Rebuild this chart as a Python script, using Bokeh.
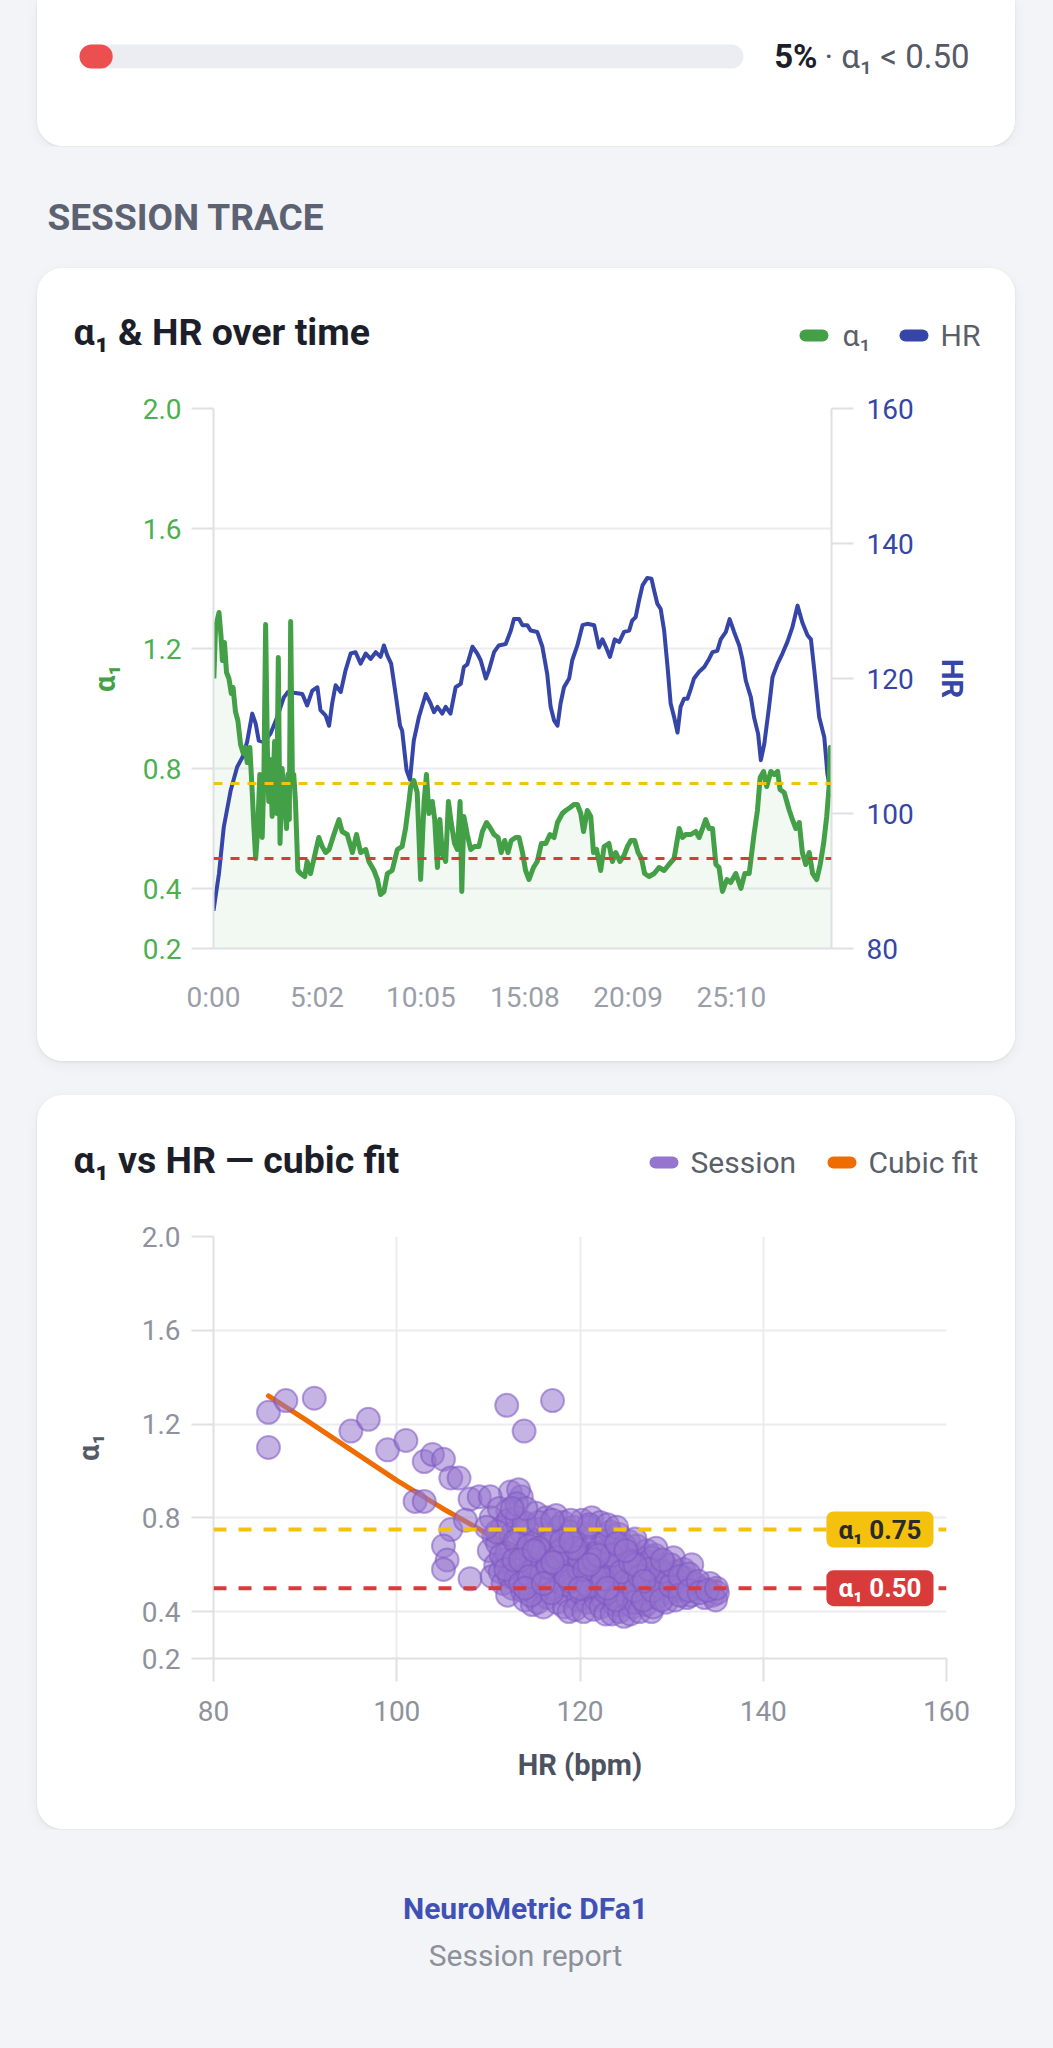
from bokeh.plotting import figure
from bokeh.models import (Range1d, LinearAxis, FixedTicker, PrintfTickFormatter, Span, Label,
                          ColumnDataSource, GlobalInlineStyleSheet)
from bokeh.layouts import column
from bokeh.embed import file_html
from bokeh.resources import INLINE

# ---------------- data ----------------
pct_below_low = 5                # % of session with a1 < 0.50
low_threshold = 0.50
aerobic_threshold = 0.75

time_tick_labels = ["0:00", "5:02", "10:05", "15:08", "20:09", "25:10"]

a1_time = [1, 6, 16, 22, 26, 32, 38, 45, 52, 57, 64, 71, 79, 87, 93, 98, 106, 113, 118, 123,
           129, 135, 142, 147, 152, 157, 161, 166, 171, 178, 184, 189, 194, 200, 207, 213, 217,
           221, 225, 230, 234, 239, 246, 254, 266, 273, 283, 293, 307, 317, 327, 337, 351, 366,
           375, 390, 405, 417, 429, 444, 453, 468, 478, 487, 497, 507, 521, 536, 550, 560, 570,
           575, 584, 594, 604, 614, 621, 628, 638, 645, 653, 660, 667, 677, 685, 693, 703, 711,
           719, 724, 730, 740, 750, 761, 774, 784, 796, 808, 818, 830, 839, 849, 859, 868, 881,
           891, 901, 910, 920, 933, 944, 956, 969, 981, 993, 1003, 1017, 1027, 1040, 1051, 1061,
           1071, 1079, 1090, 1100, 1108, 1117, 1129, 1139, 1153, 1163, 1173, 1185, 1197, 1207,
           1217, 1228, 1238, 1248, 1257, 1270, 1285, 1299, 1314, 1328, 1343, 1358, 1367, 1377,
           1392, 1406, 1416, 1426, 1435, 1445, 1455, 1465, 1474, 1484, 1497, 1508, 1523, 1538,
           1549, 1562, 1576, 1586, 1594, 1604, 1613, 1625, 1635, 1645, 1652, 1664, 1679, 1688,
           1698, 1708, 1717, 1727, 1737, 1747, 1759, 1769, 1779, 1788, 1795, 1798, 1802]
a1_vals = [1.10, 1.27, 1.32, 1.24, 1.16, 1.22, 1.12, 1.10, 1.05, 1.07, 0.99, 0.96, 0.88, 0.85, 0.87,
           0.82, 0.87, 0.72, 0.60, 0.50, 0.60, 0.78, 0.57, 0.78, 1.28, 0.87, 0.69, 0.83, 0.64, 0.89,
           0.65, 1.17, 0.55, 0.80, 0.69, 0.60, 0.78, 0.63, 1.29, 0.77, 0.78, 0.69, 0.46, 0.45, 0.44,
           0.49, 0.45, 0.50, 0.57, 0.54, 0.52, 0.53, 0.58, 0.63, 0.59, 0.58, 0.52, 0.58, 0.52, 0.53,
           0.49, 0.46, 0.43, 0.38, 0.39, 0.45, 0.46, 0.53, 0.54, 0.60, 0.69,
           0.74, 0.76, 0.72, 0.43, 0.69, 0.78, 0.65, 0.69, 0.63, 0.47, 0.63, 0.52, 0.49, 0.69, 0.62,
           0.55, 0.53, 0.69, 0.39, 0.64, 0.58, 0.53, 0.54, 0.54, 0.59, 0.62, 0.60, 0.58, 0.57, 0.52,
           0.56, 0.52, 0.56, 0.57, 0.57, 0.52, 0.46, 0.43, 0.47, 0.49, 0.55, 0.55, 0.58, 0.57, 0.62,
           0.65, 0.66, 0.67, 0.68, 0.68, 0.65, 0.59, 0.66, 0.64, 0.52, 0.53, 0.46, 0.54, 0.55, 0.49,
           0.52, 0.49, 0.51, 0.54, 0.56, 0.56, 0.52, 0.50, 0.45, 0.44, 0.45, 0.47, 0.46, 0.48, 0.50,
           0.60, 0.57, 0.58, 0.58, 0.59, 0.57, 0.60, 0.63, 0.60, 0.60, 0.48, 0.47, 0.39, 0.43, 0.42,
           0.45, 0.40, 0.45, 0.45, 0.58, 0.66, 0.77, 0.79, 0.74, 0.79, 0.78, 0.79, 0.73, 0.72, 0.66,
           0.63, 0.60, 0.62, 0.52, 0.48, 0.52, 0.45, 0.43, 0.48, 0.55, 0.64, 0.74, 0.87, 0.87]

hr_time = [0, 16, 30, 50, 69, 84, 98, 113, 123, 132, 147, 166, 186, 205, 217, 244, 259, 273, 288,
           303, 312, 327, 337, 346, 356, 371, 385, 400, 414, 429, 444, 458, 473, 487, 497, 507,
           518, 531, 544, 550, 563, 573, 584, 599, 619, 633, 643, 653, 667, 677, 691, 706, 721,
           730, 740, 755, 769, 779, 794, 803, 818, 832, 852, 867, 876, 891, 901, 915, 925, 944,
           959, 973, 983, 993, 1003, 1012, 1022, 1037, 1046, 1061, 1076, 1090, 1110, 1124, 1134,
           1144, 1156, 1170, 1183, 1197, 1212, 1221, 1231, 1241, 1251, 1265, 1277, 1285, 1294,
           1304, 1314, 1324, 1333, 1343, 1353, 1362, 1372, 1382, 1392, 1401, 1416, 1431, 1445,
           1455, 1469, 1479, 1494, 1505, 1518, 1533, 1542, 1552, 1567, 1576, 1588, 1596, 1606,
           1620, 1630, 1645, 1659, 1674, 1688, 1703, 1717, 1732, 1742, 1752, 1766, 1781, 1790, 1802]
hr_vals = [85.6, 91.1, 98.0, 103.4, 106.9, 108.3, 110.6, 114.8, 113.3, 110.8, 110.6, 111.8, 114.3,
           117.2, 118.0, 117.8, 117.7, 116.0, 118.2, 118.7, 115.3, 114.5, 113.0, 116.3, 119.0,
           118.0, 121.2, 123.7, 123.9, 122.2, 123.7, 122.9, 123.9, 123.2, 124.9, 123.4, 122.2,
           117.7, 113.0, 112.3, 106.4, 105.0, 110.8, 114.3, 117.7, 116.3, 115.0, 115.8, 114.8,
           115.8, 114.8, 118.7, 119.2, 121.7, 122.1, 124.7, 123.7, 122.7, 120.0, 121.2, 123.9,
           124.9, 125.1, 127.1, 128.8, 128.8, 127.9, 127.9, 127.1, 126.9, 124.7, 120.7, 115.8,
           113.8, 113.0, 116.3, 118.7, 120.0, 122.7, 124.9, 127.9, 128.1, 127.9, 124.6, 125.8,
           124.7, 123.2, 125.8, 125.4, 126.9, 127.1, 128.6, 129.1, 131.6, 133.8, 134.9, 134.8,
           133.0, 131.1, 130.3, 127.1, 121.7, 116.3, 114.3, 112.0, 115.8, 117.0, 117.0, 118.5,
           120.0, 121.0, 121.7, 122.9, 123.9, 124.1, 125.8, 126.9, 128.8, 126.9, 124.9, 122.9,
           119.7, 117.2, 114.3, 111.8, 107.9, 110.3, 115.8, 120.2, 122.2, 123.7, 125.5, 127.6,
           130.8, 128.3, 126.4, 125.8, 121.2, 114.3, 111.3, 105.9, 102.5]

a1_ticks = [0.2, 0.4, 0.8, 1.2, 1.6, 2.0]
hr_axis_ticks = [80, 100, 120, 140, 160]

scatter_hr = [86.0, 86.0, 87.9, 91.0, 95.0, 96.9, 99.0, 101.0, 102.0, 103.0, 103.0, 103.9, 105.1,
              105.9, 106.8, 108.0, 109.0, 112.0, 117.0, 113.9, 105.9, 105.1, 105.5, 105.1, 108.0,
              112.4, 113.6, 112.1, 110.2, 107.5,
              110.3, 110.6, 110.1, 110.8, 110.4,
              111.2, 111.5, 111.0, 111.7, 111.3, 111.6,
              112.2, 112.5, 112.0, 112.7, 112.3, 112.6, 112.1,
              113.3, 113.1, 113.6, 113.2, 113.8, 113.4, 113.0, 113.7,
              114.2, 114.6, 114.1, 114.7, 114.3, 114.5, 114.0, 114.8,
              115.2, 115.5, 115.1, 115.7, 115.3, 115.6, 115.0, 115.4,
              116.3, 116.6, 116.1, 116.8, 116.4, 116.2, 116.7, 116.5, 116.0,
              117.4, 117.7, 117.2, 117.6, 117.1, 117.8, 117.3, 117.5,
              118.2, 118.6, 118.1, 118.7, 118.4, 118.0, 118.5, 118.3, 118.8,
              119.3, 119.6, 119.1, 119.7, 119.4, 119.2, 119.8, 119.5,
              120.2, 120.5, 120.0, 120.7, 120.3, 120.6, 120.1, 120.8, 120.4,
              121.3, 121.6, 121.1, 121.7, 121.4, 121.2, 121.8, 121.5,
              122.2, 122.6, 122.1, 122.7, 122.4, 122.0, 122.5, 122.3, 122.8,
              123.3, 123.6, 123.1, 123.7, 123.4, 123.2, 123.8, 123.5,
              124.2, 124.6, 124.1, 124.7, 124.4, 124.0, 124.5, 124.3, 124.8,
              125.3, 125.6, 125.1, 125.7, 125.4, 125.2, 125.8, 125.5,
              126.2, 126.6, 126.1, 126.7, 126.4, 126.0, 126.5,
              127.3, 127.6, 127.1, 127.7, 127.4, 127.2, 127.8,
              128.2, 128.6, 128.1, 128.7, 128.4, 128.0,
              129.3, 129.6, 129.1, 129.7, 129.4,
              130.2, 130.6, 130.1, 130.7, 130.4,
              131.3, 131.6, 131.1, 131.7,
              132.2, 132.5, 132.1,
              133.3, 133.6, 134.2, 134.5, 135.0, 134.8,
              110.9, 111.4, 111.9, 112.9, 112.8, 113.5, 113.9, 114.4, 114.9, 114.6, 115.9, 115.8,
              115.5, 116.9, 116.9, 117.9, 117.9, 118.9, 118.9, 119.9, 119.9, 120.9, 120.9, 121.9,
              121.9, 122.9, 122.9, 123.9, 123.9, 124.9, 124.9, 125.9, 125.9, 126.9, 126.9, 127.9,
              127.9, 128.9, 128.9, 129.9, 129.9, 130.9, 130.9, 131.9, 131.9, 132.9, 133.0, 133.9,
              134.9, 113.1, 114.1, 112.6, 121.0, 119.0, 117.0, 123.0, 126.0, 128.3, 124.0, 109.8,
              113.5, 114.5, 115.5, 116.5, 117.5, 118.5, 119.5, 120.5, 121.5, 122.5, 123.5, 124.5,
              125.5, 126.5, 127.5, 114.0, 116.0, 118.0, 120.0, 122.0, 124.0, 126.0, 115.0, 117.0,
              119.0, 121.0, 123.0, 125.0, 127.0, 129.0]
scatter_a1 = [1.25, 1.10, 1.30, 1.31, 1.17, 1.22, 1.09, 1.13, 0.87, 0.87, 1.04, 1.07, 1.05,
              0.97, 0.97, 0.88, 0.89, 1.28, 1.30, 1.17, 0.75, 0.68, 0.62, 0.58, 0.54,
              0.91, 0.89, 0.83, 0.89, 0.79,
              0.80, 0.72, 0.66, 0.60, 0.55,
              0.84, 0.76, 0.69, 0.62, 0.57, 0.52,
              0.79, 0.73, 0.65, 0.60, 0.55, 0.50, 0.47,
              0.92, 0.80, 0.74, 0.69, 0.64, 0.58, 0.54, 0.49,
              0.77, 0.71, 0.66, 0.61, 0.56, 0.51, 0.45, 0.43,
              0.82, 0.75, 0.70, 0.63, 0.59, 0.53, 0.48, 0.44,
              0.80, 0.73, 0.68, 0.64, 0.60, 0.55, 0.50, 0.46, 0.42,
              0.81, 0.76, 0.70, 0.65, 0.58, 0.54, 0.49, 0.44,
              0.78, 0.72, 0.67, 0.62, 0.57, 0.52, 0.47, 0.42, 0.40,
              0.76, 0.69, 0.64, 0.59, 0.55, 0.50, 0.45, 0.41,
              0.79, 0.73, 0.66, 0.61, 0.56, 0.52, 0.48, 0.44, 0.40,
              0.80, 0.70, 0.63, 0.58, 0.54, 0.49, 0.45, 0.41,
              0.78, 0.72, 0.67, 0.60, 0.55, 0.50, 0.46, 0.42, 0.39,
              0.74, 0.68, 0.62, 0.57, 0.52, 0.48, 0.43, 0.39,
              0.73, 0.66, 0.61, 0.56, 0.51, 0.47, 0.43, 0.40, 0.38,
              0.70, 0.64, 0.59, 0.54, 0.50, 0.46, 0.42, 0.39,
              0.68, 0.63, 0.57, 0.52, 0.48, 0.44, 0.40,
              0.66, 0.61, 0.56, 0.51, 0.47, 0.43, 0.40,
              0.64, 0.59, 0.55, 0.50, 0.46, 0.42,
              0.60, 0.56, 0.52, 0.48, 0.44,
              0.63, 0.57, 0.53, 0.49, 0.45,
              0.58, 0.54, 0.50, 0.46,
              0.60, 0.52, 0.47,
              0.50, 0.46, 0.52, 0.47, 0.48, 0.45,
              0.74, 0.64, 0.58, 0.70, 0.62, 0.52, 0.78, 0.68, 0.58, 0.47, 0.66, 0.56,
              0.78, 0.70, 0.48, 0.60, 0.66, 0.53, 0.74, 0.58, 0.63, 0.76, 0.51, 0.65,
              0.57, 0.48, 0.70, 0.59, 0.45, 0.68, 0.53, 0.61, 0.49, 0.55, 0.45, 0.63,
              0.49, 0.57, 0.45, 0.51, 0.60, 0.55, 0.47, 0.56, 0.49, 0.53, 0.48, 0.49,
              0.50, 0.86, 0.84, 0.84, 0.77, 0.79, 0.79, 0.77, 0.71, 0.67, 0.76, 0.76,
              0.62, 0.55, 0.67, 0.59, 0.63, 0.55, 0.67, 0.58, 0.62, 0.54, 0.64, 0.57,
              0.61, 0.55, 0.58, 0.50, 0.52, 0.70, 0.50, 0.64, 0.69, 0.60, 0.66, 0.61,
              0.70, 0.60, 0.50, 0.66, 0.53, 0.62]

fit_hr = [86, 90, 95, 100, 105, 110, 115, 120, 125, 130, 135]
fit_a1 = [1.32, 1.22, 1.09, 0.96, 0.84, 0.73, 0.64, 0.57, 0.52, 0.50, 0.53]

# ---------------- style ----------------
FONT = "Roboto"
PAGE_BG = "#f3f4f8"
GREEN = "#43a047"
GREEN_LBL = "#4caf50"
BLUE = "#3545a8"
YELLOW = "#f4c20d"
RED = "#d93a3a"
PURPLE = "#9575cd"
PURPLE_EDGE = "#7e57c2"
ORANGE = "#ef6c00"
TITLE_C = "#1c1f2a"
LEG_C = "#5a5f6b"
TICK_C = "#8e929c"
GRID_C = "#ececf0"
AXIS_C = "#dfe0e4"

CARD_STYLE = {"border-radius": "26px", "overflow": "hidden", "background": "white",
              "box-shadow": "0 1px 3px rgba(16,24,40,0.07), 0 4px 14px rgba(16,24,40,0.05)"}
CARD_W = 978
CARD_X = 37
HEADER_H = 100


def base_fig(w, h, bg, **kw):
    p = figure(width=w, height=h, output_backend="svg", toolbar_location=None,
               background_fill_color=bg, border_fill_color=bg, outline_line_color=None, **kw)
    p.frame_align = False
    return p


def text_fig(w, h, bg):
    # ranges in pixels of the panel (layout only)
    return base_fig(w, h, bg, x_range=Range1d(0, w), y_range=Range1d(0, h),
                    x_axis_type=None, y_axis_type=None, min_border=0)


def add_text(p, x, y, text, size, color, style="normal", align="left", baseline="middle",
             units="screen", **kw):
    p.add_layout(Label(x=x, y=y, x_units=units, y_units=units, text=text, text_font=FONT,
                       text_font_size=f"{size}px", text_font_style=style, text_color=color,
                       text_align=align, text_baseline=baseline, **kw))


def pill_legend(p, names, colors, pill_x, label_x, y):
    # rounded "pill" legend keys like the reference: 29 x 12 px
    p.segment(x0=[x + 6 for x in pill_x], y0=[y] * len(pill_x),
              x1=[x + 23 for x in pill_x], y1=[y] * len(pill_x),
              line_color=colors, line_width=12, line_cap="round")
    for name, lx in zip(names, label_x):
        add_text(p, lx, y, name, 30, LEG_C)


def style_axis(ax, label_color, tick_out, standoff, axis_label=None, axis_label_color=None,
               axis_standoff=20):
    ax.major_label_text_font = FONT
    ax.major_label_text_font_size = "28px"
    ax.major_label_text_color = label_color
    ax.major_tick_out = tick_out
    ax.major_tick_in = 0
    ax.minor_tick_out = 0
    ax.minor_tick_in = 0
    ax.major_tick_line_color = AXIS_C
    ax.major_tick_line_width = 2
    ax.axis_line_color = AXIS_C
    ax.axis_line_width = 2
    ax.major_label_standoff = standoff
    if axis_label:
        ax.axis_label = axis_label
        ax.axis_label_text_font = FONT
        ax.axis_label_text_font_size = "29px"
        ax.axis_label_text_font_style = "bold"
        ax.axis_label_text_color = axis_label_color
        ax.axis_label_standoff = axis_standoff


def card_header(title, title_y, names, colors, pill_x, label_x):
    h = text_fig(CARD_W, HEADER_H, "white")
    add_text(h, 36, title_y, title, 37.5, TITLE_C, style="bold")
    pill_legend(h, names, colors, pill_x, label_x, 33)
    return h


# ---------------- card 0 : progress ----------------
BAR_PX_PER_UNIT = 6.64
cap = 12 / BAR_PX_PER_UNIT
c0 = base_fig(CARD_W, 146, "white",
              x_range=Range1d(-42 / BAR_PX_PER_UNIT, (CARD_W - 42) / BAR_PX_PER_UNIT),
              y_range=Range1d(-90, 56), x_axis_type=None, y_axis_type=None, min_border=0)
c0.segment(x0=[cap], y0=[0], x1=[100 - cap], y1=[0], line_color="#ecedf2", line_width=24,
           line_cap="round")
c0.segment(x0=[cap], y0=[0], x1=[max(pct_below_low - cap, cap)], y1=[0], line_color="#ec4f4f",
           line_width=24, line_cap="round")
add_text(c0, 780, 90, f"{pct_below_low}%", 33, TITLE_C, style="bold", align="right")
add_text(c0, 787, 90, f"· α₁ < {low_threshold:.2f}", 33, "#555a66")
c0.margin = (0, 0, 0, CARD_X)
c0.styles = dict(CARD_STYLE, **{"border-radius": "0 0 26px 26px"})

# ---------------- heading ----------------
head = text_fig(1053, 122, PAGE_BG)
add_text(head, 47, 51, "SESSION TRACE", 37, "#5c6272", style="bold")

# ---------------- card 1 : trace ----------------
def to_sec(s):
    m, ss = s.split(":")
    return int(m) * 60 + int(ss)


tick_secs = [to_sec(s) for s in time_tick_labels]

p1 = base_fig(CARD_W, 693, "white", x_range=Range1d(0, a1_time[-1]),
              y_range=Range1d(a1_ticks[0], a1_ticks[-1]),
              min_border_left=176, min_border_right=184, min_border_top=40, min_border_bottom=113)
p1.extra_y_ranges = {"hr": Range1d(hr_axis_ticks[0], hr_axis_ticks[-1])}

ya = p1.yaxis[0]
ya.ticker = FixedTicker(ticks=a1_ticks)
ya.formatter = PrintfTickFormatter(format="%.1f")
style_axis(ya, GREEN_LBL, 22, 10, "α₁", GREEN, 18)
p1.ygrid.ticker = FixedTicker(ticks=a1_ticks)
p1.ygrid.grid_line_color = GRID_C
p1.ygrid.grid_line_width = 2
p1.xgrid.visible = False

xa = p1.xaxis[0]
xa.ticker = FixedTicker(ticks=tick_secs)
xa.major_label_overrides = {s: lab for s, lab in zip(tick_secs, time_tick_labels)}
style_axis(xa, "#9a9ea8", 0, 32)

ra = LinearAxis(y_range_name="hr", ticker=FixedTicker(ticks=hr_axis_ticks))
style_axis(ra, BLUE, 22, 13, "HR", BLUE, 18)
p1.add_layout(ra, "right")

src1 = ColumnDataSource(dict(t=a1_time, a1=a1_vals))
p1.varea(x="t", y1=p1.y_range.start, y2="a1", source=src1, fill_color=GREEN, fill_alpha=0.07)
p1.line(hr_time, hr_vals, y_range_name="hr", line_color=BLUE, line_width=4, line_join="round")
p1.line("t", "a1", source=src1, line_color=GREEN, line_width=5, line_join="round")
p1.add_layout(Span(location=aerobic_threshold, dimension="width", line_color=YELLOW,
                   line_dash="9 8", line_width=3))
p1.add_layout(Span(location=low_threshold, dimension="width", line_color=RED,
                   line_dash="9 8", line_width=3))

hdr1 = card_header("α₁ & HR over time", 37, ["α₁", "HR"], [GREEN, BLUE], [762, 862], [805, 903])
card1 = column(hdr1, p1, spacing=0, styles=CARD_STYLE)
card1.margin = (0, 0, 0, CARD_X)

# ---------------- card 2 : scatter ----------------
p2 = base_fig(CARD_W, 634, "white", x_range=Range1d(hr_axis_ticks[0], hr_axis_ticks[-1]),
              y_range=Range1d(a1_ticks[0], a1_ticks[-1]),
              min_border_left=176, min_border_right=69, min_border_top=41, min_border_bottom=171)
ya2 = p2.yaxis[0]
ya2.ticker = FixedTicker(ticks=a1_ticks)
ya2.formatter = PrintfTickFormatter(format="%.1f")
style_axis(ya2, TICK_C, 22, 11, "α₁", "#555a66", 33)
xa2 = p2.xaxis[0]
xa2.ticker = FixedTicker(ticks=hr_axis_ticks)
style_axis(xa2, TICK_C, 23, 19, "HR (bpm)", "#4d5260", 24)
p2.ygrid.ticker = FixedTicker(ticks=a1_ticks)
p2.xgrid.ticker = FixedTicker(ticks=hr_axis_ticks)
for g in (p2.xgrid, p2.ygrid):
    g.grid_line_color = GRID_C
    g.grid_line_width = 2

p2.line(fit_hr, fit_a1, line_color=ORANGE, line_width=5, line_cap="round", line_join="round")
p2.scatter(scatter_hr, scatter_a1, size=23, fill_color=PURPLE, fill_alpha=0.55,
           line_color=PURPLE_EDGE, line_alpha=0.55, line_width=2)
for thr, col, txt_col in ((aerobic_threshold, YELLOW, "#2a2a2a"), (low_threshold, RED, "white")):
    p2.add_layout(Span(location=thr, dimension="width", line_color=col, line_dash="13 12",
                       line_width=4))
    p2.add_layout(Label(x=p2.x_range.end, y=thr, x_offset=-13, text=f"α₁ {thr:.2f}",
                        text_font=FONT, text_font_size="26px", text_font_style="bold",
                        text_color=txt_col, text_align="right", text_baseline="middle",
                        background_fill_color=col,
                        padding=dict(left=12, right=12, top=3, bottom=3), border_radius=7))

hdr2 = card_header("α₁ vs HR — cubic fit", 36, ["Session", "Cubic fit"], [PURPLE, ORANGE],
                   [612, 790], [653, 831])
card2 = column(hdr2, p2, spacing=0, styles=CARD_STYLE)
card2.margin = (34, 0, 0, CARD_X)

# ---------------- footer ----------------
foot = text_fig(1053, 211, PAGE_BG)
add_text(foot, 525, 132, "NeuroMetric DFa1", 30, "#3f51b5", style="bold", align="center")
add_text(foot, 525, 85, "Session report", 30, "#8c909a", align="center")

page = column(c0, head, card1, card2, foot, spacing=0, styles={"background": PAGE_BG},
              stylesheets=[GlobalInlineStyleSheet(css="html, body { background: #f3f4f8; }")])

open("out.html", "w").write(file_html(page, INLINE))
